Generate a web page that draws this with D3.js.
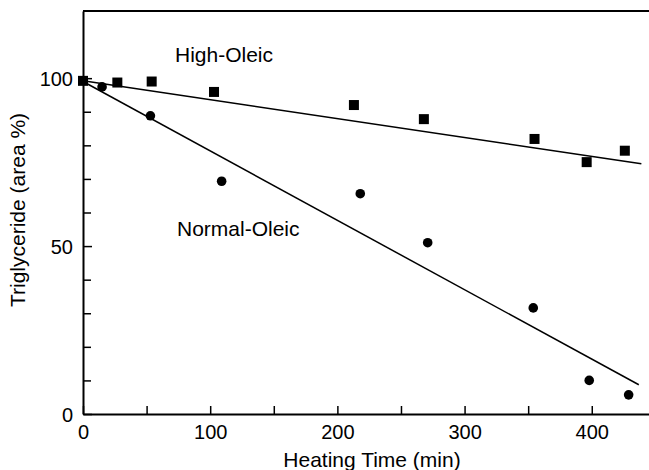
<!DOCTYPE html>
<html>
<head>
<meta charset="utf-8">
<script src="https://cdn.jsdelivr.net/npm/d3@7"></script>
<style>
  body { margin: 0; background: #fff; }
  svg { display: block; font-family: "Liberation Sans", Arial, Helvetica, sans-serif; }
  .axis path, .axis line { stroke: #000; }
  .axis text { font-size: 20px; fill: #000; }
</style>
</head>
<body>
<div class="chart"></div>
<script>
// data
var highTime = [0, 27, 54, 103, 213, 268, 355, 396, 426];
var highTG = [99.2, 98.7, 99.0, 95.9, 92.0, 87.8, 81.9, 75.0, 78.4];

var normalTime = [15, 53, 109, 218, 271, 354, 398, 429];
var normalTG = [97.4, 88.8, 69.3, 65.6, 51.0, 31.6, 10.0, 5.7];

// fitted lines (end points)
var highFitTime = [0, 439];
var highFitTG = [99.2, 74.5];
var normalFitTime = [0, 437];
var normalFitTG = [99.0, 8.7];

var xMajorTicks = [0, 100, 200, 300, 400];
var xMinorTicks = [50, 150, 250, 350];
var yMajorTicks = [0, 50, 100];
var yMinorTicks = [10, 20, 30, 40, 60, 70, 80, 90];

var svgWidth = 649;
var svgHeight = 470;

var margin = { top: 11, right: 0, bottom: 56, left: 83 };
var width = svgWidth - margin.left - margin.right;
var height = svgHeight - margin.top - margin.bottom;

var svg = d3.select(".chart")
  .append("svg")
  .attr("width", svgWidth)
  .attr("height", svgHeight);

var chartGroup = svg.append("g")
  .attr("transform", `translate(${margin.left}, ${margin.top})`);

var xScale = d3.scaleLinear()
  .domain([0, 445])
  .range([0, width]);

var yScale = d3.scaleLinear()
  .domain([0, 120])
  .range([height, 0]);

// minor ticks first (no labels)
chartGroup.append("g")
  .attr("class", "axis")
  .attr("transform", `translate(0, ${height})`)
  .call(d3.axisBottom(xScale).tickValues(xMinorTicks).tickSizeInner(-8).tickSizeOuter(0).tickFormat(""))
  .call(g => g.select(".domain").remove())
  .selectAll("line").attr("stroke-width", 1.5);

chartGroup.append("g")
  .attr("class", "axis")
  .call(d3.axisLeft(yScale).tickValues(yMinorTicks).tickSizeInner(-8).tickSizeOuter(0).tickFormat(""))
  .call(g => g.select(".domain").remove())
  .selectAll("line").attr("stroke-width", 1.5);

// main axes
var xAxis = chartGroup.append("g")
  .attr("class", "axis")
  .attr("transform", `translate(0, ${height})`)
  .call(d3.axisBottom(xScale).tickValues(xMajorTicks).tickSizeInner(-8).tickSizeOuter(0).tickPadding(11));
xAxis.select(".domain").attr("stroke-width", 2);
xAxis.selectAll("line").attr("stroke-width", 1.5);

var yAxis = chartGroup.append("g")
  .attr("class", "axis")
  .call(d3.axisLeft(yScale).tickValues(yMajorTicks).tickSizeInner(-9).tickSizeOuter(0).tickPadding(10));
yAxis.select(".domain").attr("stroke-width", 2);
yAxis.selectAll("line").attr("stroke-width", 1.5);
yAxis.selectAll("text").attr("dy", "0.36em");

// top frame line
chartGroup.append("line")
  .attr("x1", xScale(0))
  .attr("x2", width)
  .attr("y1", yScale(120))
  .attr("y2", yScale(120))
  .attr("stroke", "#000")
  .attr("stroke-width", 2);

// fitted lines
var fitLine = d3.line()
  .x(d => xScale(d[0]))
  .y(d => yScale(d[1]));

chartGroup.append("path")
  .datum(d3.zip(highFitTime, highFitTG))
  .attr("d", fitLine)
  .attr("fill", "none")
  .attr("stroke", "#000")
  .attr("stroke-width", 1.5);

chartGroup.append("path")
  .datum(d3.zip(normalFitTime, normalFitTG))
  .attr("d", fitLine)
  .attr("fill", "none")
  .attr("stroke", "#000")
  .attr("stroke-width", 1.5);

// normal-oleic circles
chartGroup.selectAll("circle")
  .data(d3.zip(normalTime, normalTG))
  .enter()
  .append("circle")
  .attr("cx", d => xScale(d[0]))
  .attr("cy", d => yScale(d[1]))
  .attr("r", 4.8)
  .attr("fill", "#000");

// high-oleic squares
var sq = 10;
chartGroup.selectAll("rect.high")
  .data(d3.zip(highTime, highTG))
  .enter()
  .append("rect")
  .attr("class", "high")
  .attr("x", d => xScale(d[0]) - sq / 2)
  .attr("y", d => yScale(d[1]) - sq / 2)
  .attr("width", sq)
  .attr("height", sq)
  .attr("fill", "#000");

// series labels
chartGroup.append("text")
  .attr("x", 175 - margin.left)
  .attr("y", 62 - margin.top)
  .attr("font-size", 21)
  .text("High-Oleic");

chartGroup.append("text")
  .attr("x", 177 - margin.left)
  .attr("y", 236 - margin.top)
  .attr("font-size", 21)
  .text("Normal-Oleic");

// axis titles
svg.append("text")
  .attr("x", 372)
  .attr("y", 467)
  .attr("text-anchor", "middle")
  .attr("font-size", 21)
  .text("Heating Time (min)");

svg.append("text")
  .attr("transform", "rotate(-90)")
  .attr("x", -210)
  .attr("y", 25)
  .attr("text-anchor", "middle")
  .attr("font-size", 21)
  .text("Triglyceride (area %)");
</script>
</body>
</html>
